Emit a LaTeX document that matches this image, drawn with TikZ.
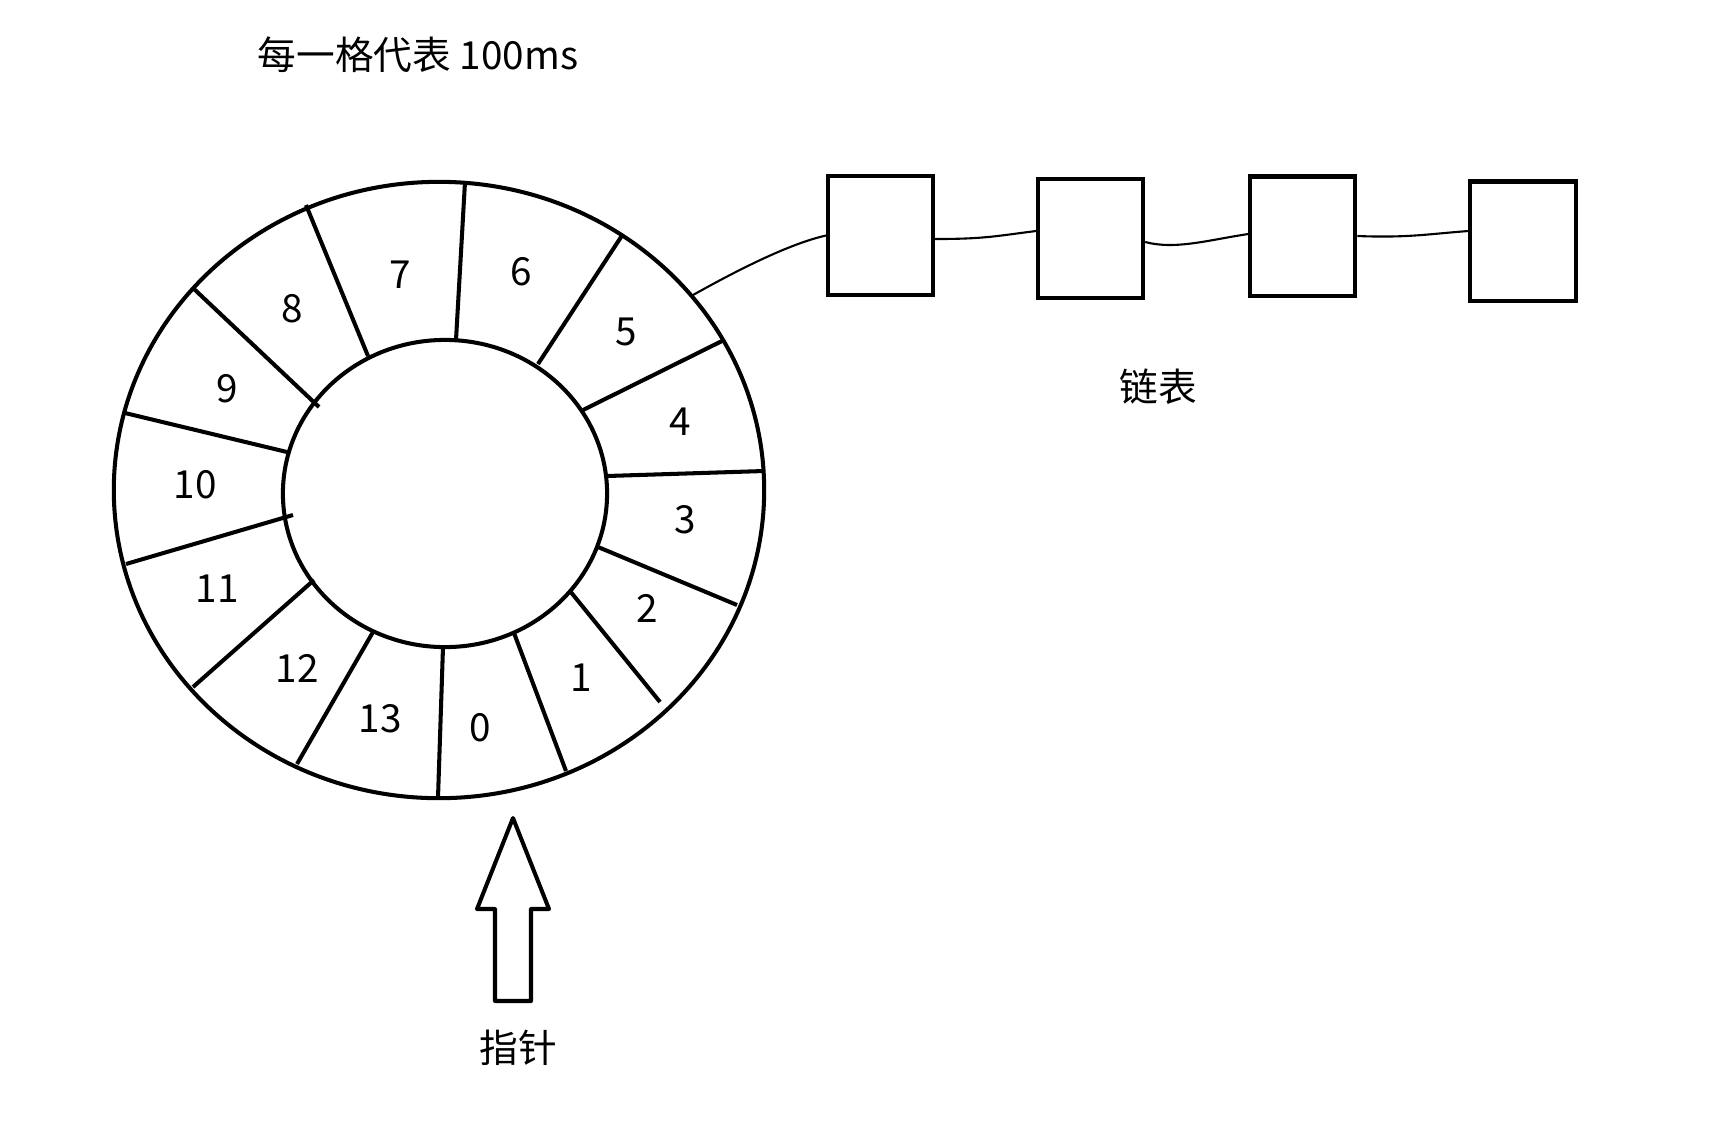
\documentclass[tikz,border=0pt]{standalone}
\usepackage{fontspec}
\setmainfont{Noto Sans CJK SC}
\usepackage{tikz}
\usetikzlibrary{positioning,calc}

\begin{document}
\begin{tikzpicture}[
    x=0.01cm, y=-0.01cm,
    ring/.style={draw, line width=1.15pt},
    spoke/.style={line width=1.15pt},
    slot/.style={font=\fontsize{11}{13}\selectfont, inner sep=0pt},
    cell/.style={draw, rectangle, minimum width=1.05cm, minimum height=1.19cm, line width=1.15pt, inner sep=0pt},
    link/.style={line width=0.6pt},
    pointer/.style={draw, line width=1.15pt, line join=round},
    label/.style={font=\fontsize{11}{13}\selectfont, inner sep=0pt}
]
    \useasboundingbox (0,0) rectangle (1726,1144);

    % Title
    \node[label] (title) at (418,55) {每一格代表 100ms};

    % Timing Wheel
    \draw[ring] (439,490) ellipse [x radius=3.25cm, y radius=3.08cm];
    \draw[ring] (445,493.5) ellipse [x radius=1.62cm, y radius=1.535cm];
    \foreach \ix/\iy/\ox/\oy in {443/647/438/798, 514/633/566/771, 570/591/660/702,
        598/547/737/605, 607/476/764/471, 583/410/722/341, 538/364/623/234,
        456/340/465/182, 368/356/306/205, 319/407/193/288, 287/452/125/413,
        293/515/126/564, 314/580/193/687, 373/632/297/764}
        \draw[spoke] (\ix,\iy) -- (\ox,\oy);
    \foreach \n/\px/\py in {0/480/728, 1/581/678, 2/647/608, 3/685/520, 4/680/422,
        5/626/332, 6/521/272, 7/400/275, 8/292/309, 9/227/389, 10/195/485,
        11/217/589, 12/297/668, 13/380/719}
        \node[slot] (slot\n) at (\px,\py) {\n};
    \coordinate (hook) at (693,295);

    % Linked List
    \node[cell] (cell1) at (880.5,235.5) {};
    \node[cell, right=1.01cm of cell1, yshift=-0.03cm] (cell2) {};
    \node[cell, right=1.03cm of cell2, yshift=0.025cm] (cell3) {};
    \node[cell, right=1.11cm of cell3, yshift=-0.05cm] (cell4) {};
    \node[label] (listtext) at (1158,387) {链表};

    % Draw Connections
    \draw[link] (hook) .. controls +(50,-28) and +(-35,8) .. (cell1.west);
    \draw[link] ([yshift=-0.035cm]cell1.east) .. controls +(50,0) and +(-40,5) .. ([yshift=0.075cm]cell2.west);
    \draw[link] ([yshift=-0.035cm]cell2.east) .. controls +(30,8) and +(-40,6) .. ([yshift=0.02cm]cell3.west);
    \draw[link] (cell3.east) .. controls +(50,2) and +(-40,3) .. ([yshift=0.1cm]cell4.west);

    % Pointer
    \draw[pointer] (513,818) -- (549,909) -- (531,909) -- (531,1001) -- (495,1001)
        -- (495,909) -- (477,909) -- cycle;
    \node[label] (ptrtext) at (518,1048) {指针};

\end{tikzpicture}
\end{document}
